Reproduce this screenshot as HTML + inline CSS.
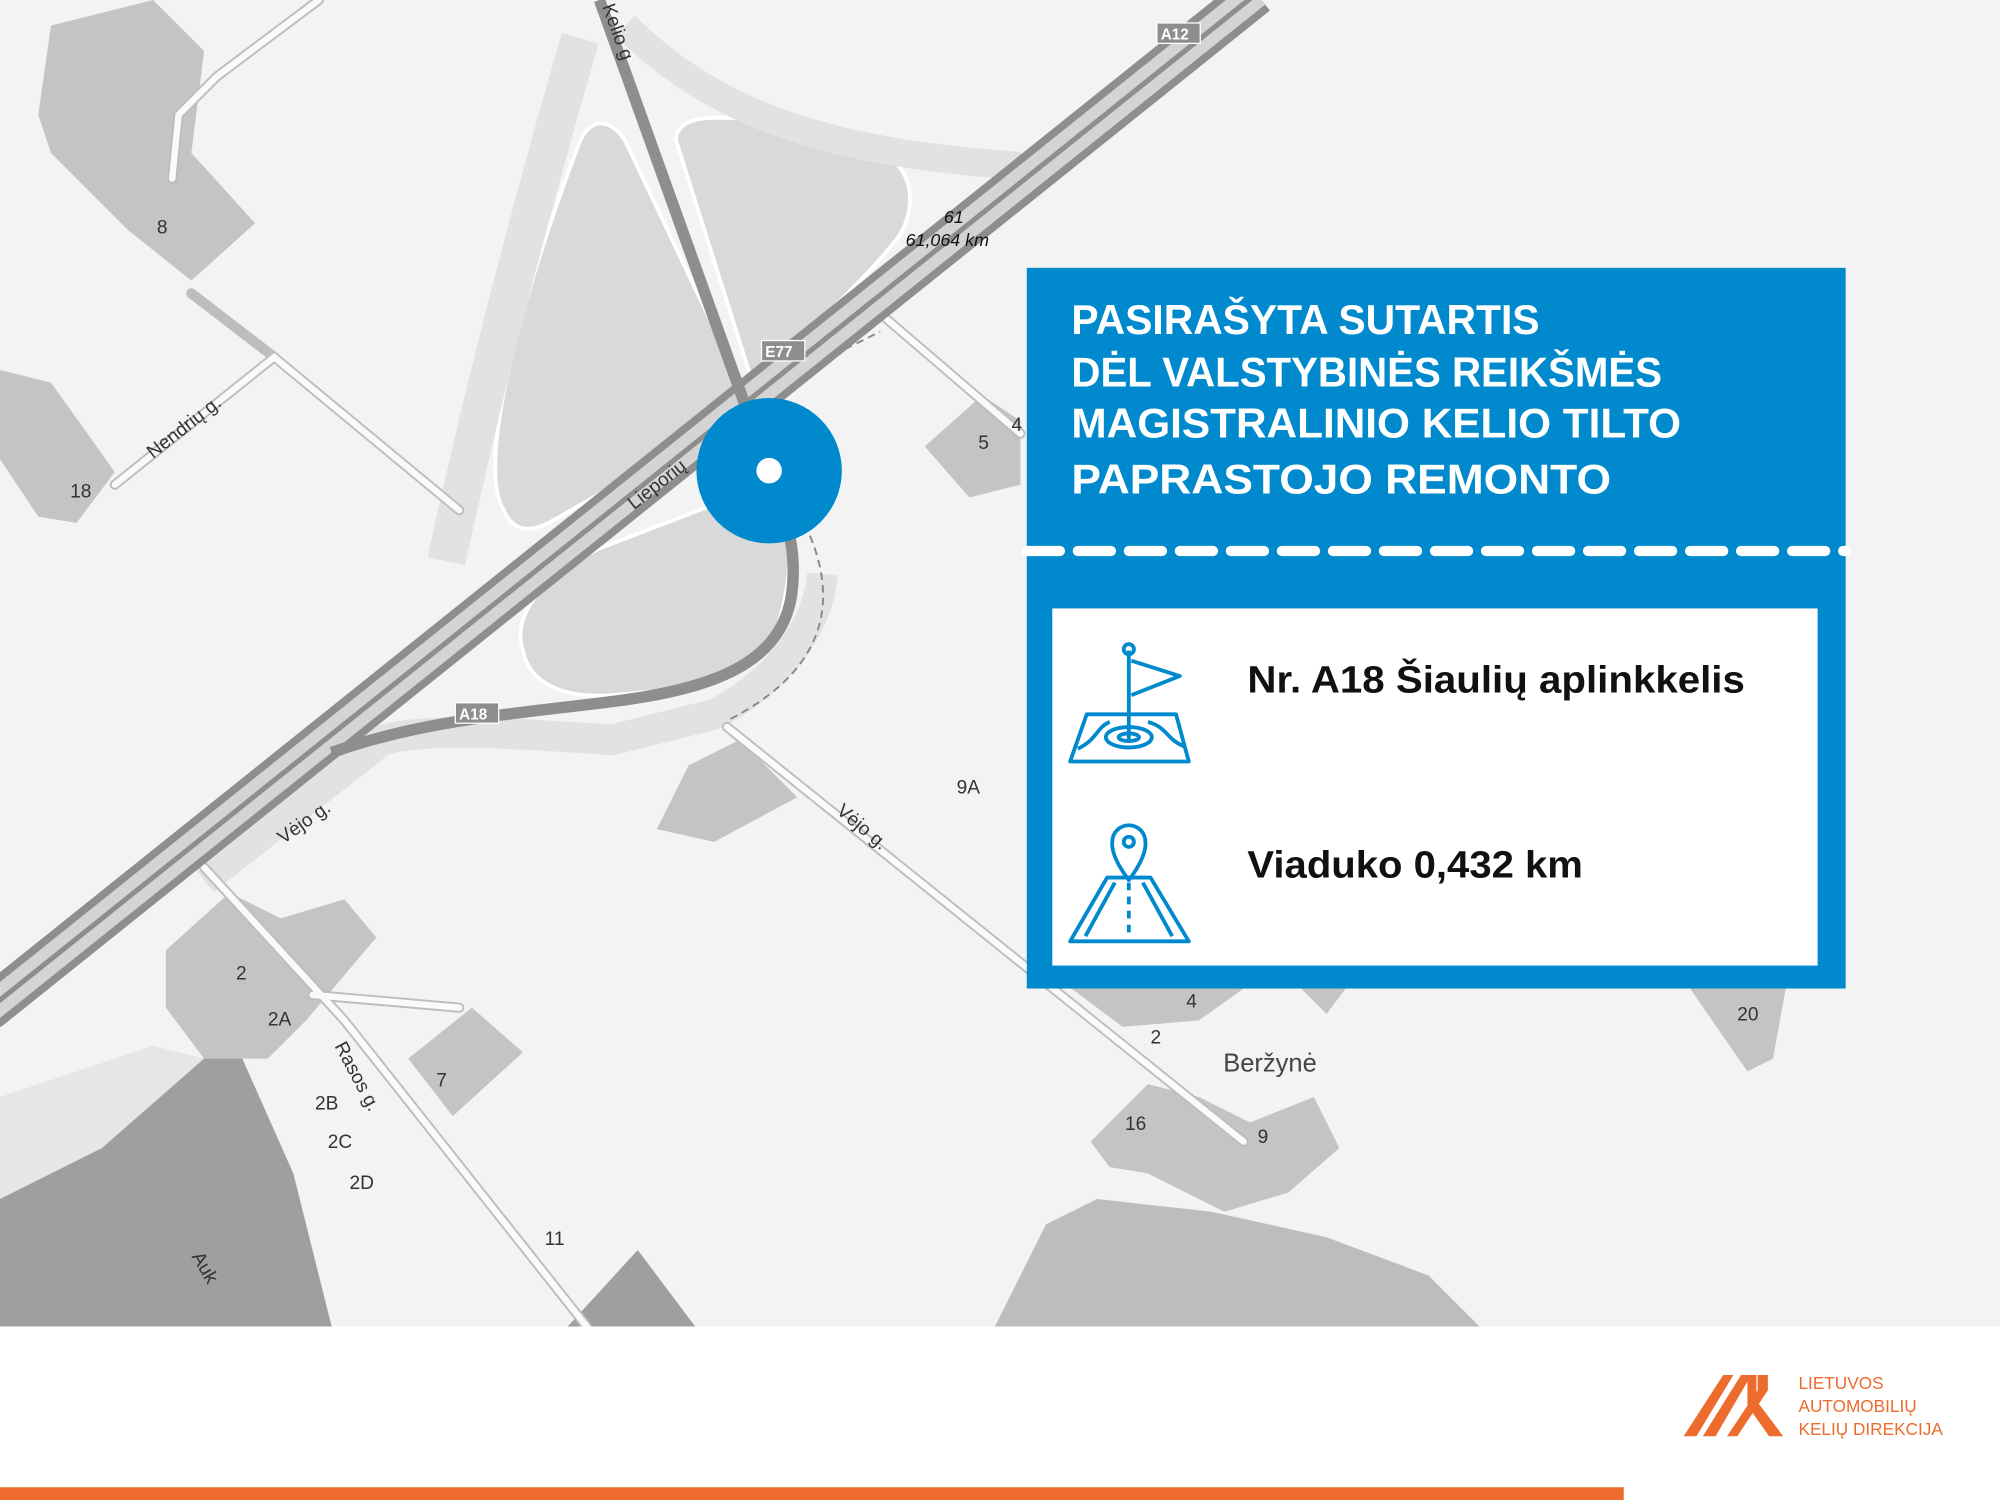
<!DOCTYPE html>
<html><head><meta charset="utf-8"><style>
html,body{margin:0;padding:0;background:#fff;}
svg{display:block}
</style></head><body>
<svg width="2000" height="1500" viewBox="0 0 1568 1176" xmlns="http://www.w3.org/2000/svg" font-family="'Liberation Sans', sans-serif">
<rect x="0" y="0" width="1568" height="1040" fill="#f3f3f3"/>
<!-- grass / areas -->
<g fill="#d9d9d9" stroke="#fff" stroke-width="3">
<path d="M395,400 C370,360 420,200 455,110 C465,90 480,95 490,110 L580,300 C560,330 520,360 430,410 C410,420 400,412 395,400Z"/>
<path d="M530,110 C530,90 560,90 600,95 L690,120 C715,130 720,160 705,185 C670,230 620,270 590,300 Z"/>
<path d="M410,510 C400,480 430,450 470,430 L600,380 C620,400 625,440 610,490 C590,535 540,540 480,545 C440,548 415,535 410,510Z"/>
</g>
<path d="M160,690 L300,580 C340,570 400,575 480,580 L560,560 C600,540 640,500 645,450" fill="none" stroke="#e2e2e2" stroke-width="24"/>
<path d="M350,440 C380,300 420,150 455,30" fill="none" stroke="#e2e2e2" stroke-width="30"/>
<path d="M490,20 C560,90 650,120 800,130" fill="none" stroke="#e2e2e2" stroke-width="22"/>
<!-- buildings/areas -->
<g fill="#c4c4c4">
<path d="M30,90 L40,20 L120,0 L160,40 L150,120 L200,175 L150,220 L100,180 L40,120Z"/>
<path d="M0,290 L40,300 L90,370 L60,410 L30,405 L0,360Z"/>
<path d="M725,350 L770,310 L800,330 L800,380 L760,390Z"/>
<path d="M515,650 L540,600 L580,580 L625,625 L560,660Z"/>
<path d="M130,745 L180,700 L220,720 L270,705 L295,735 L240,800 L210,830 L160,830 L130,790Z"/>
<path d="M320,830 L370,790 L410,825 L355,875Z"/>
<path d="M855,895 L900,850 L940,860 L980,880 L1030,860 L1050,900 L1010,935 L960,950 L900,920 L870,915Z"/>
<path d="M1325,775 L1400,775 L1390,830 L1370,840Z"/>
<path d="M840,775 L975,775 L940,800 L880,805Z"/>
<path d="M1020,775 L1055,775 L1040,795Z"/>
</g>
<g fill="#9f9f9f">
<path d="M0,930 L60,900 L130,830 L190,830 L230,920 L260,1040 L0,1040Z"/>
<path d="M445,1040 L500,980 L545,1040Z"/>
</g>
<path d="M780,1040 L820,960 L860,940 L950,950 L1040,970 L1120,1000 L1160,1040Z" fill="#bdbdbd"/>
<path d="M0,860 L120,820 L160,830 L80,900 L0,940Z" fill="#e6e6e6"/>
<!-- local roads -->
<g fill="none" stroke="#bdbdbd" stroke-width="8" stroke-linecap="round">
<path d="M90,380 L215,280 L360,400"/><path d="M160,680 L270,800 L460,1040"/><path d="M570,570 L975,895"/>
<path d="M135,140 L140,90 L170,60 L250,0"/><path d="M695,250 L800,340"/><path d="M245,780 L360,790"/>
<path d="M215,280 L150,230"/>
</g>
<g fill="none" stroke="#fafafa" stroke-width="5" stroke-linecap="round">
<path d="M90,380 L215,280 L360,400"/><path d="M160,680 L270,800 L460,1040"/><path d="M570,570 L975,895"/>
<path d="M135,140 L140,90 L170,60 L250,0"/><path d="M695,250 L800,340"/><path d="M245,780 L360,790"/>
</g>
<path d="M635,420 C660,480 640,530 570,565" fill="none" stroke="#888" stroke-width="1.5" stroke-dasharray="6,4"/>
<path d="M600,305 L690,260" fill="none" stroke="#888" stroke-width="1.5" stroke-dasharray="6,4"/>
<!-- highway -->
<path d="M-10,792 L985,-5" stroke="#8e8e8e" stroke-width="34" fill="none"/>
<path d="M-10,792 L985,-5" stroke="#d4d4d4" stroke-width="22" fill="none"/>
<path d="M-10,792 L985,-5" stroke="#8e8e8e" stroke-width="4" fill="none"/>
<!-- A18 ramp and Kelio road -->
<path d="M260,590 C330,565 400,560 480,550 C560,540 610,520 620,470 C625,440 620,410 605,380" fill="none" stroke="#8e8e8e" stroke-width="9"/>
<path d="M470,0 L585,320" stroke="#8e8e8e" stroke-width="9" fill="none"/>
<!-- shields -->
<g font-size="12" font-weight="bold" fill="#fff">
<rect x="357" y="551" width="34" height="16" fill="#8e8e8e" stroke="#fff"/><text x="360" y="564">A18</text>
<rect x="597" y="267" width="34" height="16" fill="#8e8e8e" stroke="#fff"/><text x="600" y="280">E77</text>
<rect x="907" y="18" width="34" height="16" fill="#8e8e8e" stroke="#fff"/><text x="910" y="31">A12</text>
</g>
<!-- labels -->
<g fill="#333" font-size="15">
<text x="120" y="360" transform="rotate(-38 120 360)">Nendrių g.</text>
<text x="222" y="662" transform="rotate(-35 222 662)">Vėjo g.</text>
<text x="655" y="637" transform="rotate(40 655 637)">Vėjo g.</text>
<text x="262" y="820" transform="rotate(62 262 820)">Rasos g.</text>
<text x="497" y="400" transform="rotate(-38 497 400)">Lieporių</text>
<text x="472" y="5" transform="rotate(70 472 5)">Kelio g</text>
<text x="150" y="985" transform="rotate(60 150 985)">Auk</text>
<text x="123" y="183">8</text><text x="55" y="390">18</text><text x="767" y="352">5</text><text x="793" y="338">4</text>
<text x="185" y="768">2</text><text x="210" y="804">2A</text><text x="247" y="870">2B</text><text x="257" y="900">2C</text><text x="274" y="932">2D</text>
<text x="342" y="852">7</text><text x="427" y="976">11</text><text x="750" y="622">9A</text><text x="902" y="818">2</text><text x="930" y="790">4</text>
<text x="882" y="886">16</text><text x="986" y="896">9</text><text x="1362" y="800">20</text>
<text x="959" y="840" font-size="20" fill="#444">Beržynė</text>
<text x="740" y="175" font-size="14" font-style="italic" fill="#111">61</text>
<text x="710" y="193" font-size="14" font-style="italic" fill="#111">61,064 km</text>
</g>
<!-- marker -->
<circle cx="603" cy="369" r="57" fill="#0089cd"/>
<circle cx="603" cy="369" r="10" fill="#fff"/>
<!-- panel -->
<rect x="805" y="210" width="642" height="565" fill="#0089cd"/>
<g fill="#fff" font-weight="bold" font-size="33">
<text x="840" y="262" textLength="367" lengthAdjust="spacingAndGlyphs">PASIRAŠYTA SUTARTIS</text>
<text x="840" y="303" textLength="463" lengthAdjust="spacingAndGlyphs">DĖL VALSTYBINĖS REIKŠMĖS</text>
<text x="840" y="343" textLength="478" lengthAdjust="spacingAndGlyphs">MAGISTRALINIO KELIO TILTO</text>
<text x="840" y="387" textLength="423" lengthAdjust="spacingAndGlyphs">PAPRASTOJO REMONTO</text>
</g>
<line x1="805" y1="432" x2="1447" y2="432" stroke="#fff" stroke-width="8" stroke-dasharray="26,14" stroke-linecap="round"/>
<rect x="825" y="477" width="600" height="280" fill="#fff"/>
<g font-weight="bold" fill="#111" font-size="30">
<text x="978" y="543" textLength="390" lengthAdjust="spacingAndGlyphs">Nr. A18 Šiaulių aplinkkelis</text>
<text x="978" y="688" textLength="263" lengthAdjust="spacingAndGlyphs">Viaduko 0,432 km</text>
</g>
<!-- icons -->
<g fill="none" stroke="#0089cd" stroke-width="3" stroke-linejoin="round">
<path d="M885,510 L885,580"/><circle cx="885" cy="509" r="4"/>
<path d="M887,518 L925,530 L887,545"/>
<path d="M852,560 L922,560 L932,597 L839,597 Z"/>
<ellipse cx="885" cy="578" rx="18" ry="8"/><ellipse cx="885" cy="578" rx="8" ry="3"/>
<path d="M845,587 C860,580 860,570 870,566 M900,566 C915,570 915,580 928,585"/>
<path d="M885,690 C870,670 872,662 872,660 A13,13 0 1 1 898,660 C898,662 900,670 885,690Z"/><circle cx="885" cy="660" r="4"/>
<path d="M868,688 L902,688 L932,738 L839,738 Z"/>
<path d="M874,692 L851,734 M896,692 L919,734"/>
<path d="M885,692 L885,736" stroke-dasharray="6,5"/>
</g>
<!-- footer -->
<rect x="0" y="1040" width="1568" height="136" fill="#fff"/>
<rect x="0" y="1166" width="1273" height="10" fill="#ec6b2d"/>
<g fill="#ec6b2d">
<path d="M1320,1126 L1351,1078 L1359,1078 L1330,1126Z"/>
<path d="M1335,1126 L1365,1078 L1373,1078 L1345,1126Z"/>
<path d="M1354,1126 L1378,1090 L1378,1078 L1386,1078 L1386,1090 L1362,1126Z" transform="translate(0,0)"/>
<path d="M1370,1078 L1377,1078 L1377,1098 L1398,1126 L1387,1126 L1370,1102Z"/>
</g>
<g fill="#ec6b2d" font-size="13.5">
<text x="1410" y="1089">LIETUVOS</text>
<text x="1410" y="1107">AUTOMOBILIŲ</text>
<text x="1410" y="1125">KELIŲ DIREKCIJA</text>
</g>
</svg>
</body></html>
